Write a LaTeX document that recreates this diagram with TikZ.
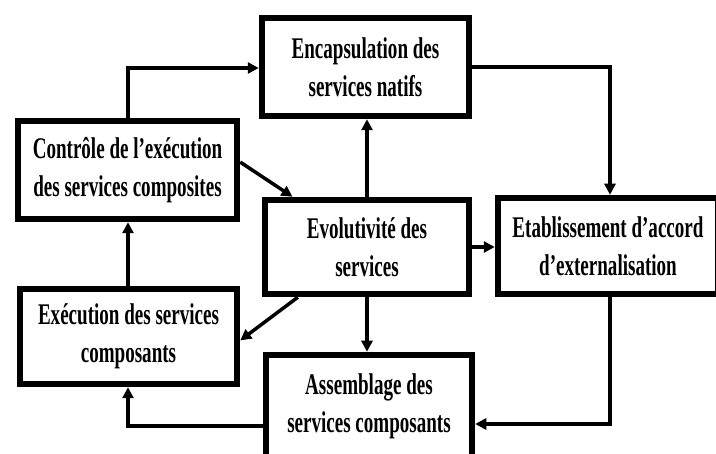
\documentclass[tikz,border=0pt]{standalone}
\usepackage{fontspec}
\setmainfont{Liberation Serif}[FakeStretch=0.635]
\usetikzlibrary{arrows.meta}
\begin{document}
\begin{tikzpicture}[x=1pt,y=-1pt,
  box/.style={draw, line width=6.5pt, inner sep=0pt, align=center,
    font=\fontsize{30}{38}\selectfont\bfseries},
  arr/.style={line width=3.5pt, -{Triangle[length=11pt,width=11pt]}}]
\useasboundingbox (0,0) rectangle (716,454);

% process boxes
\node[box, minimum width=207pt, minimum height=98pt] (enc) at (365.5,67) {Encapsulation des\\services natifs};
\node[box, minimum width=219pt, minimum height=98pt] (ctl) at (127.5,170) {Contrôle de l’exécution\\des services composites};
\node[box, minimum width=204pt, minimum height=94pt] (evo) at (367,247) {Evolutivité des\\services};
\node[box, minimum width=220pt, minimum height=96pt] (eta) at (608,246) {Etablissement d’accord\\d’externalisation};
\node[box, minimum width=217pt, minimum height=95pt] (exe) at (128.5,336.5) {Exécution des services\\composants};
\node[box, minimum width=206pt, minimum height=102pt] (asm) at (369,406) {Assemblage des\\services composants};

% routing points
\coordinate (ctltop) at (128,68);
\coordinate (encright) at (610,67);
\coordinate (etabot) at (610,424);
\coordinate (exebot) at (128,426);

% connectors
\draw[arr] (ctl.north -| ctltop) -- (ctltop) -- (ctltop -| enc.west);
\draw[arr] (enc.east) -- (encright) -- (encright |- eta.north);
\draw[arr] (evo.north) -- (evo.north |- enc.south);
\draw[arr] (ctl.4) -- (evo.146);
\draw[arr] (evo.east) -- (evo.east -| eta.west);
\draw[arr] (evo.216) -- (exe.-2);
\draw[arr] (evo.south) -- (evo.south |- asm.north);
\draw[arr] (eta.south -| etabot) -- (etabot) -- (etabot -| asm.east);
\draw[arr] (asm.west |- exebot) -- (exebot) -- (exebot |- exe.south);
\draw[arr] (exe.north -| ctltop) -- (ctl.south -| ctltop);
\end{tikzpicture}
\end{document}
